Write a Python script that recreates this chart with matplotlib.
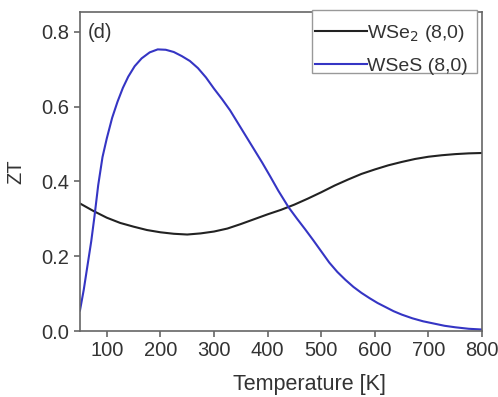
import matplotlib
matplotlib.use("Agg")
import matplotlib.pyplot as plt
from matplotlib.patches import Rectangle

plt.rcParams['font.family'] = ['Liberation Sans', 'DejaVu Sans']

# ZT vs temperature for the two (8,0) nanotubes
temp_wse2 = [50, 75, 100, 125, 150, 175, 200, 225, 250, 275, 300, 325, 350, 375,
             400, 425, 450, 475, 500, 525, 550, 575, 600, 625, 650, 675, 700,
             725, 750, 775, 800]
zt_wse2 = [0.341, 0.321, 0.303, 0.289, 0.279, 0.270, 0.264, 0.260, 0.258, 0.261,
           0.266, 0.274, 0.286, 0.299, 0.312, 0.324, 0.338, 0.354, 0.371, 0.389,
           0.405, 0.420, 0.432, 0.443, 0.452, 0.460, 0.466, 0.470, 0.473, 0.475,
           0.476]

temp_wses = [50, 57, 64, 71, 77, 84, 92, 100, 110, 120, 130, 140, 152, 165, 180,
             195, 210, 225, 240, 255, 270, 285, 300, 315, 330, 345, 360, 375,
             390, 405, 420, 439, 455, 470, 485, 500, 515, 530, 545, 560, 575,
             590, 605, 620, 635, 650, 670, 690, 710, 730, 750, 775, 800]
zt_wses = [0.055, 0.110, 0.175, 0.240, 0.306, 0.390, 0.465, 0.515, 0.570, 0.613,
           0.650, 0.680, 0.708, 0.729, 0.745, 0.753, 0.752, 0.746, 0.735, 0.722,
           0.703, 0.678, 0.648, 0.620, 0.590, 0.555, 0.520, 0.485, 0.450, 0.413,
           0.375, 0.331, 0.300, 0.272, 0.243, 0.213, 0.183, 0.158, 0.137, 0.118,
           0.102, 0.088, 0.075, 0.064, 0.053, 0.044, 0.034, 0.026, 0.020, 0.014,
           0.010, 0.006, 0.004]

x_ticks = [100, 200, 300, 400, 500, 600, 700, 800]
y_ticks = [0.0, 0.2, 0.4, 0.6, 0.8]

FS = 14.5
TXT = '#333333'
EDGE = '#666666'

fig = plt.figure(figsize=(4.98, 3.97), dpi=100)
ax = fig.add_axes([0.1606, 0.1662, 0.8074, 0.8036])

ax.plot(temp_wse2, zt_wse2, color='#222222', lw=1.5, label='WSe$_2$ (8,0)')
ax.plot(temp_wses, zt_wses, color='#3535c4', lw=1.5, label='WSeS (8,0)')

ax.set_xlim(50, 800)
ax.set_ylim(0, 0.853)
ax.set_xticks(x_ticks)
ax.set_yticks(y_ticks)
ax.set_yticklabels([f'{v:.1f}' for v in y_ticks])

for s in ax.spines.values():
    s.set_color(EDGE)
    s.set_linewidth(1.2)
ax.tick_params(direction='out', length=4, width=1.2, color=EDGE,
               labelsize=FS, labelcolor=TXT, pad=3.5)

ax.set_xlabel('Temperature [K]', fontsize=15.5, color=TXT)
ax.xaxis.set_label_coords(0.570, -0.135)
ax.set_ylabel('ZT', fontsize=FS, color=TXT)
ax.yaxis.set_label_coords(-0.137, 0.5)

ax.text(0.02, 0.935, '(d)', transform=ax.transAxes, fontsize=FS,
        color=TXT, va='center', ha='left')

# legend box drawn separately so the entries can sit low inside it
ax.add_patch(Rectangle((0.577, 0.809), 0.411, 0.197, transform=ax.transAxes,
                       facecolor='white', edgecolor='#999999', lw=1.0,
                       clip_on=False, zorder=4))
leg = ax.legend(loc='upper left', fontsize=14, frameon=False,
                handlelength=2.67, handletextpad=0.0, borderaxespad=0.0,
                borderpad=0.0, labelspacing=0.70,
                bbox_to_anchor=(0.585, 0.967))
leg.set_zorder(5)
for t in leg.get_texts():
    t.set_color(TXT)

fig.savefig('out.png', dpi=100)
